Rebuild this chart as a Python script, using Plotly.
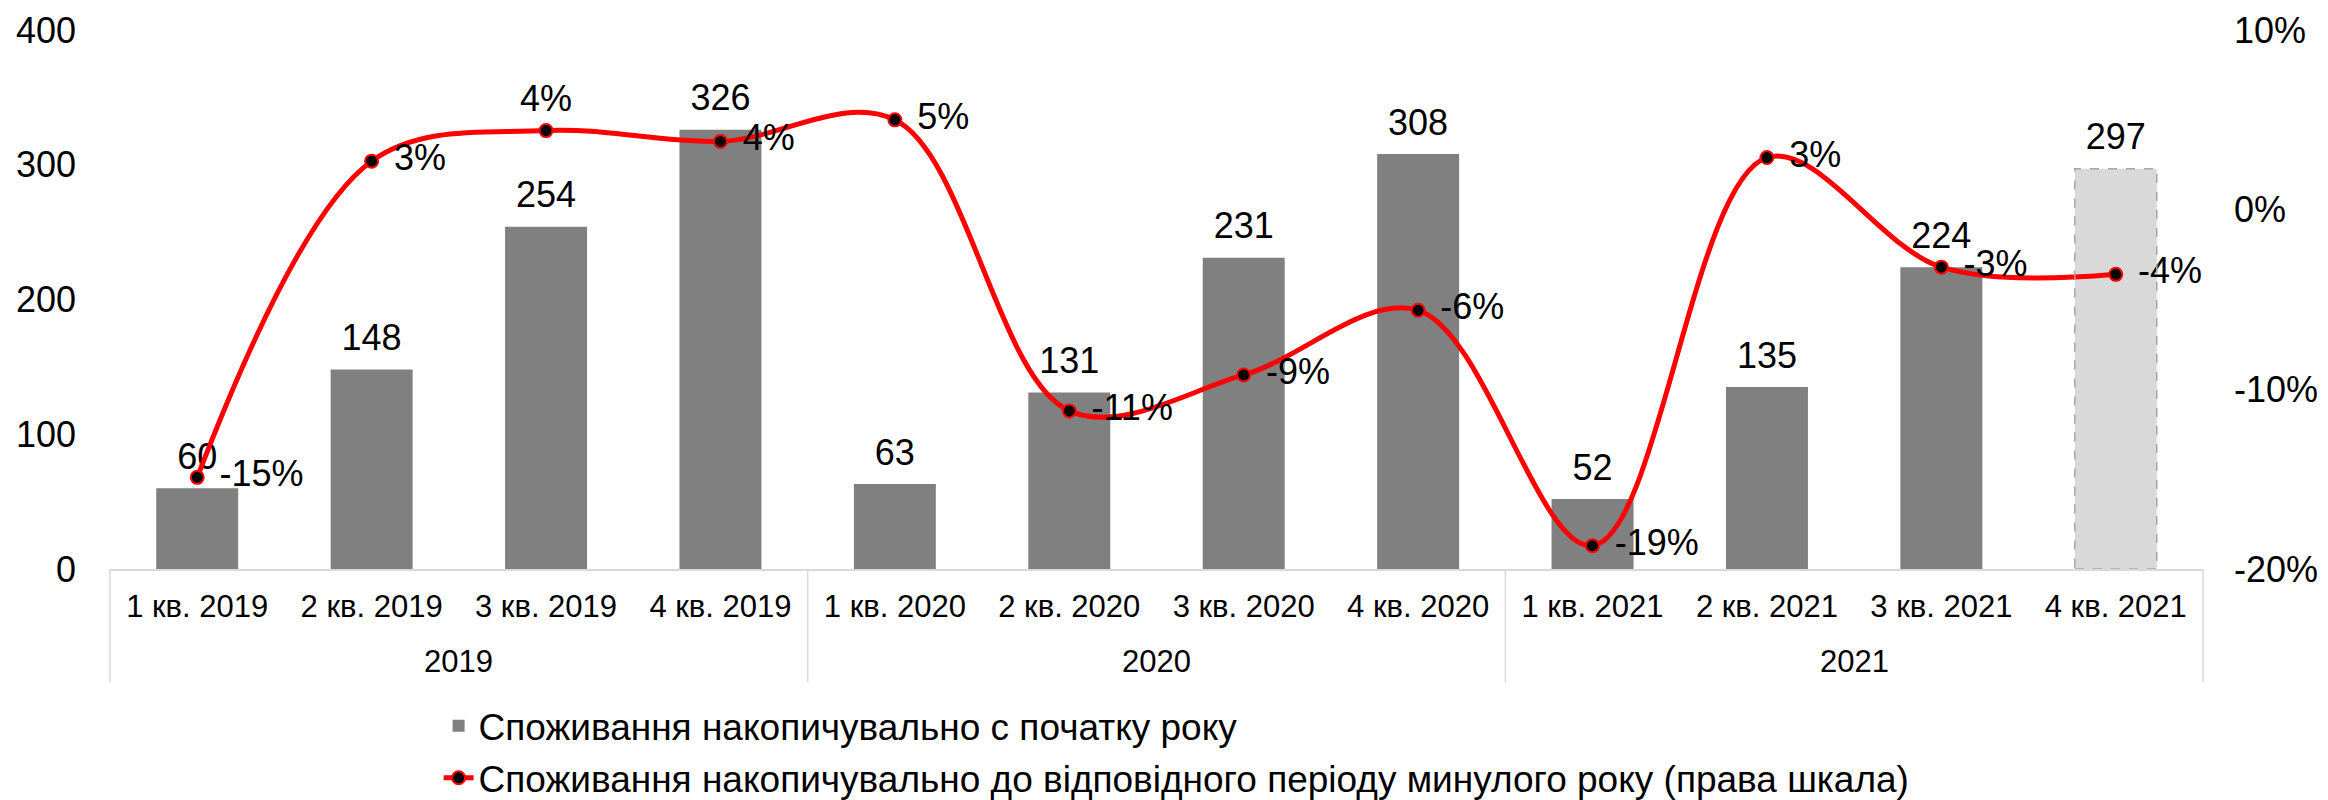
import plotly.graph_objects as go

# дані
quarters = ["1 кв. 2019", "2 кв. 2019", "3 кв. 2019", "4 кв. 2019",
            "1 кв. 2020", "2 кв. 2020", "3 кв. 2020", "4 кв. 2020",
            "1 кв. 2021", "2 кв. 2021", "3 кв. 2021", "4 кв. 2021"]
years = ["2019", "2020", "2021"]
quarters_per_year = [4, 4, 4]
consumption = [60, 148, 254, 326, 63, 131, 231, 308, 52, 135, 224, 297]
yoy_pct = [-14.9, 2.7, 4.4, 3.8, 5.0, -11.2, -9.2, -5.6, -18.7, 2.9, -3.2, -3.6]
left_ticks = [0, 100, 200, 300, 400]
right_ticks = [-20, -10, 0, 10]

BAR_NAME = "Споживання накопичувально с початку року"
LINE_NAME = "Споживання накопичувально до відповідного періоду минулого року (права шкала)"

FONT = "Liberation Sans, Arial, sans-serif"
BAR_W = 0.47
n = len(quarters)

bar_colors = ["#808080"] * (n - 1) + ["#D9D9D9"]
pct_text = [f"{round(v):d}%" for v in yoy_pct]
# підпис 3 кв. 2019 стоїть над точкою, решта праворуч
pct_pos = ["middle right"] * n
pct_size = [34] * n
pct_pos[2] = "top center"
pct_size[2] = 16

fig = go.Figure()

fig.add_trace(go.Bar(
    x=quarters, y=consumption, name=BAR_NAME, legendgroup="a",
    marker=dict(color=bar_colors, line=dict(width=0)),
    width=BAR_W, hoverinfo="x+y",
))

# підписи стовпців
fig.add_trace(go.Scatter(
    x=quarters, y=consumption, mode="markers+text",
    text=[str(v) for v in consumption], textposition="top center",
    textfont=dict(size=36, color="black"),
    marker=dict(size=15, opacity=0), showlegend=False, hoverinfo="skip",
))

fig.add_trace(go.Scatter(
    x=quarters, y=yoy_pct, name=LINE_NAME, legendgroup="b", yaxis="y2",
    mode="lines+markers",
    line=dict(color="#FF0000", width=5, shape="spline", smoothing=1),
    marker=dict(color="black", size=13, line=dict(color="#FF0000", width=2)),
))

# підписи лінії
fig.add_trace(go.Scatter(
    x=quarters, y=yoy_pct, yaxis="y2", mode="markers+text",
    text=pct_text, textposition=pct_pos,
    textfont=dict(size=36, color="black"),
    marker=dict(size=pct_size, opacity=0), showlegend=False, hoverinfo="skip",
))

# пунктирна рамка прогнозного стовпця
fig.add_shape(type="rect", xref="x", yref="y",
              x0=n - 1 - BAR_W / 2, x1=n - 1 + BAR_W / 2, y0=0, y1=consumption[-1],
              line=dict(color="#A6A6A6", width=1.5, dash="dash"), layer="above")

# роки та роздільники
start = 0
bounds = [0]
for yr, k in zip(years, quarters_per_year):
    fig.add_annotation(x=start + (k - 1) / 2, y=-0.171, xref="x", yref="paper",
                       text=yr, showarrow=False, yanchor="middle",
                       font=dict(size=31, color="black"))
    start += k
    bounds.append(start)
for b in bounds:
    fig.add_shape(type="line", xref="paper", yref="paper",
                  x0=b / n, x1=b / n, y0=0, y1=-0.21,
                  line=dict(color="#D9D9D9", width=1.5))

fig.update_layout(
    width=2328, height=800,
    margin=dict(l=110, r=125, t=30, b=231, autoexpand=False),
    plot_bgcolor="white", paper_bgcolor="white",
    font=dict(family=FONT, size=36, color="black"),
    legend=dict(x=0.157, y=-0.234, xanchor="left", yanchor="top",
                font=dict(size=37), tracegroupgap=1, bgcolor="rgba(0,0,0,0)"),
    xaxis=dict(type="category", range=[-0.5, n - 0.5], showline=True,
               linecolor="#D9D9D9", linewidth=1.5, showgrid=False,
               tickfont=dict(size=31), ticklabelstandoff=9),
    yaxis=dict(range=[0, 400], tickvals=left_ticks, showgrid=False,
               zeroline=False, ticklabelstandoff=33, tickfont=dict(size=36)),
    yaxis2=dict(range=[-20, 10], tickvals=right_ticks,
                ticktext=[f"{v}%" for v in right_ticks], overlaying="y",
                side="right", showgrid=False, zeroline=False,
                ticklabelstandoff=30, tickfont=dict(size=36)),
)

fig.write_html("out.html", config={"displayModeBar": False},
               post_script="document.body.style.margin='0';")
